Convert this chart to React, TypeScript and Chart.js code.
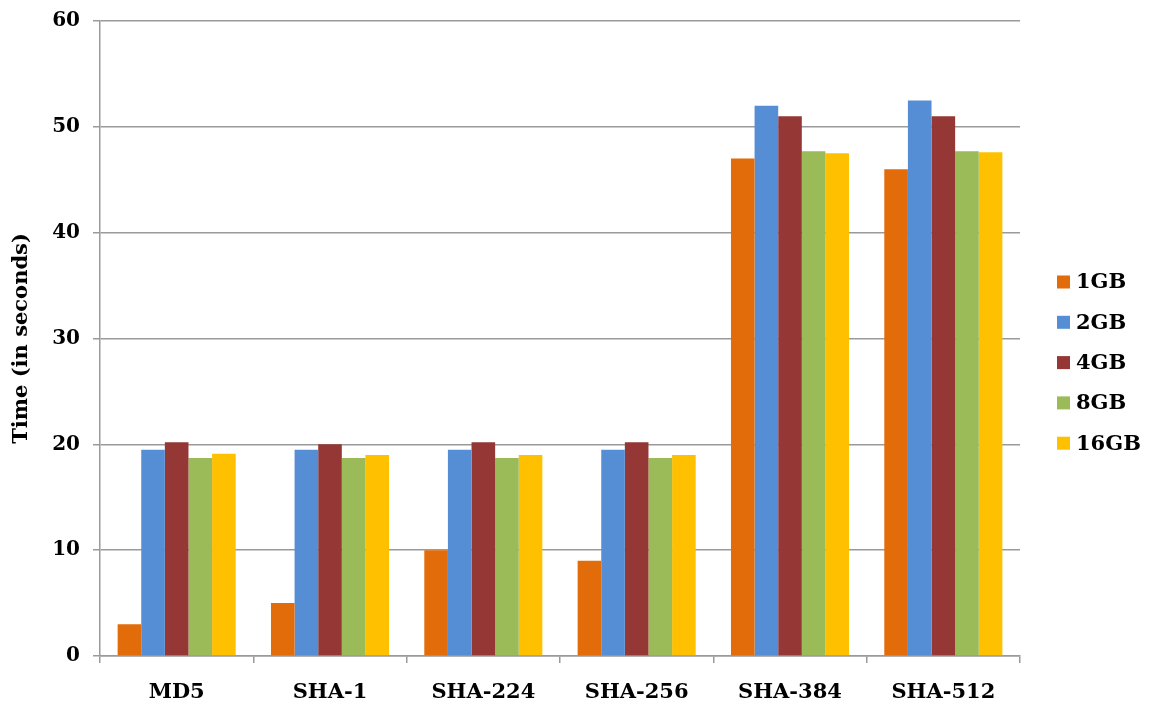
import React, { useEffect, useRef } from "react";
import { Chart, registerables } from "chart.js";

Chart.register(...registerables);

const categories = ["MD5", "SHA-1", "SHA-224", "SHA-256", "SHA-384", "SHA-512"];
const seriesLabels = ["1GB", "2GB", "4GB", "8GB", "16GB"];
const values1GB = [3, 5, 10, 9, 47, 46];
const values2GB = [19.5, 19.5, 19.5, 19.5, 52, 52.5];
const values4GB = [20.2, 20, 20.2, 20.2, 51, 51];
const values8GB = [18.7, 18.7, 18.7, 18.7, 47.7, 47.7];
const values16GB = [19.1, 19, 19, 19, 47.5, 47.6];
const seriesColors = ["#E36C0A", "#558ED5", "#953735", "#9BBB59", "#FFC000"];
const yTitle = "Time (in seconds)";
const yMin = 0;
const yMax = 60;
const yStep = 10;

const FONT = "'DejaVu Serif', serif";
const GRID = "#9A9A9A";

const legendPlugin = {
  id: "customLegend",
  afterDraw(chart: any) {
    const ctx = chart.ctx;
    const x = chart.chartArea.right + 37;
    const startY = chart.chartArea.top + 261;
    const gap = 40.3;
    ctx.save();
    ctx.font = `bold 21px ${FONT}`;
    ctx.textBaseline = "middle";
    ctx.textAlign = "left";
    chart.data.datasets.forEach((ds: any, i: number) => {
      const cy = startY + i * gap;
      ctx.fillStyle = ds.backgroundColor;
      ctx.fillRect(x, cy - 6.5, 13, 13);
      ctx.fillStyle = "#000";
      ctx.fillText(ds.label, x + 19, cy + 1);
    });
    ctx.restore();
  },
};

export default function App() {
  const ref = useRef<HTMLCanvasElement | null>(null);
  useEffect(() => {
    if (!ref.current) return;
    const allValues = [values1GB, values2GB, values4GB, values8GB, values16GB];
    const chart = new Chart(ref.current, {
      type: "bar",
      data: {
        labels: categories,
        datasets: seriesLabels.map((label, i) => ({
          label,
          data: allValues[i],
          backgroundColor: seriesColors[i],
          borderWidth: 0,
          barPercentage: 1,
          categoryPercentage: 0.77,
        })),
      },
      options: {
        animation: false,
        responsive: true,
        maintainAspectRatio: false,
        layout: { padding: { top: 21, right: 132, left: 0, bottom: 0 } },
        plugins: {
          legend: { display: false },
          tooltip: { enabled: false },
        },
        scales: {
          x: {
            grid: {
              drawOnChartArea: false,
              offset: true,
              tickLength: 7,
              color: GRID,
              lineWidth: 1.5,
            },
            border: { color: GRID, width: 1.5 },
            ticks: {
              color: "#000",
              font: { family: FONT, weight: "bold", size: 21 },
              padding: 17,
            },
            afterFit: (s: any) => {
              s.height = 47;
              s.paddingLeft = 0;
              s.paddingRight = 0;
            },
          },
          y: {
            min: yMin,
            max: yMax,
            grid: { color: GRID, tickLength: 7, lineWidth: 1.5 },
            border: { color: GRID, width: 1.5 },
            ticks: {
              stepSize: yStep,
              color: "#000",
              font: { family: FONT, weight: "bold", size: 20 },
              padding: 13,
            },
            title: {
              display: true,
              text: yTitle,
              color: "#000",
              font: { family: FONT, weight: "bold", size: 21 },
              padding: { top: 9, bottom: 0 },
            },
            afterFit: (s: any) => {
              s.width = 100;
              s.paddingTop = 0;
              s.paddingBottom = 0;
            },
          },
        },
      },
      plugins: [legendPlugin],
    });
    return () => chart.destroy();
  }, []);
  return (
    <div style={{ position: "fixed", left: 0, top: 0, width: 1152, height: 703 }}>
      <canvas ref={ref} />
    </div>
  );
}
